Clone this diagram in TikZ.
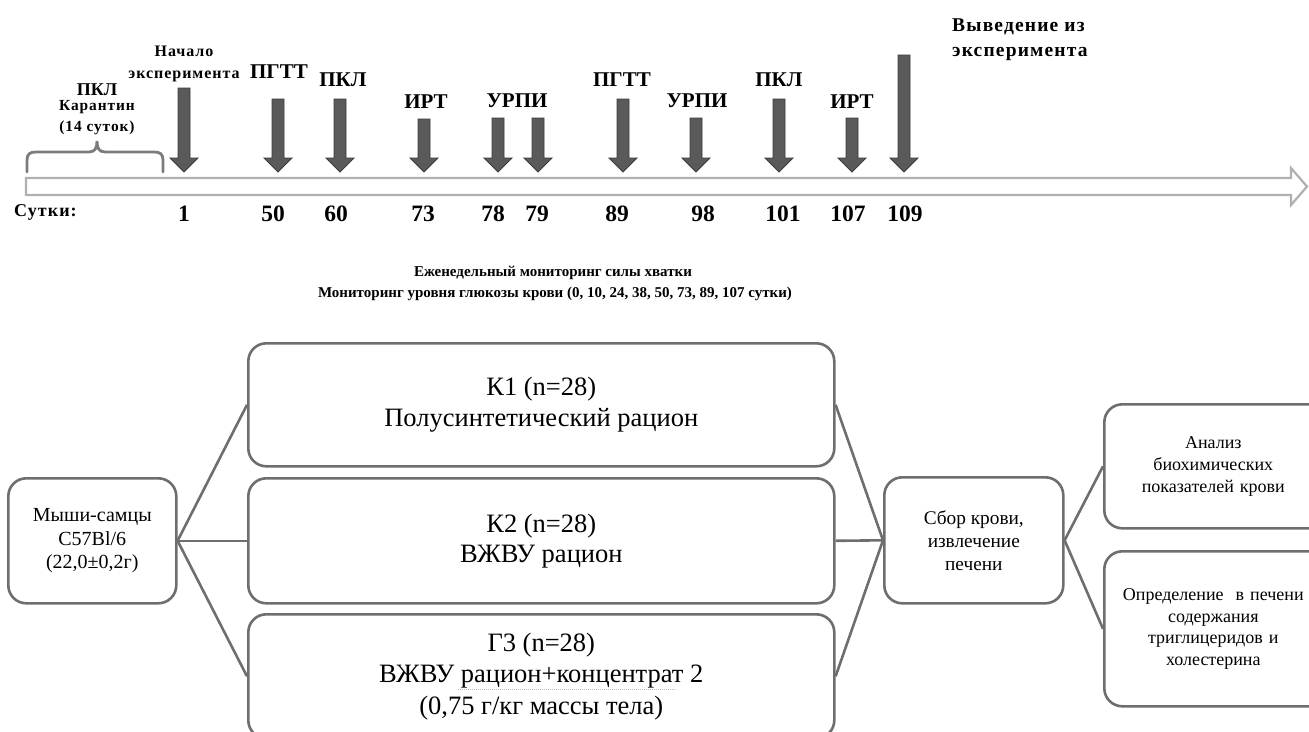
\documentclass[tikz,border=0pt]{standalone}
\usepackage{fontspec}
\setmainfont{Liberation Serif}
\newfontfamily\spbf[LetterSpace=6]{Liberation Serif}
\definecolor{arrfill}{HTML}{5A5A5A}
\definecolor{arrdraw}{HTML}{3C3C3C}
\definecolor{tlgray}{HTML}{B0B0B0}
\definecolor{boxc}{HTML}{6E6E6E}
\definecolor{wavec}{HTML}{B8B8B8}
\newcommand\dayarrow[2]{\filldraw[darr] (#1-6,#2) -- (#1+6,#2) -- (#1+6,158) -- (#1+14,158) -- (#1,172) -- (#1-14,158) -- (#1-6,158) -- cycle;}
\begin{document}
\begin{tikzpicture}[x=1pt,y=-1pt,
  darr/.style={fill=arrfill,draw=arrdraw,line width=0.9pt},
  small/.style={font=\spbf\bfseries\fontsize{16}{22}\selectfont,inner sep=0,align=center},
  big/.style={font=\bfseries\fontsize{21}{24}\selectfont,inner sep=0},
  num/.style={font=\bfseries\fontsize{23.5}{26}\selectfont,inner sep=0},
  mon/.style={font=\bfseries\fontsize{15}{18}\selectfont,inner sep=0},
  gbox/.style={draw=boxc,line width=2.6pt,rounded corners=18pt,fill=white,align=center,inner sep=0,anchor=north west},
  conn/.style={draw=boxc,line width=2.6pt}]
\useasboundingbox (0,0) rectangle (1309,731);
\clip (0,0) rectangle (1309,731);

% timeline hollow arrow
\draw[tlgray,line width=2.2pt,fill=white,line join=miter] (26,178) -- (1291,178) -- (1291,168) -- (1307,186.5) -- (1291,205) -- (1291,195) -- (26,195) -- cycle;

% brace
\draw[boxc!90,line width=2.8pt,line cap=round] (27,172) -- (27,160) .. controls (27,154) and (30,152) .. (36,152) -- (89,152) .. controls (95,152) and (97,148) .. (97,141) .. controls (97,148) and (99,152) .. (105,152) -- (154,152) .. controls (160,152) and (163,154) .. (163,160) -- (163,172);

% day arrows
\dayarrow{184}{88}
\dayarrow{278}{99}
\dayarrow{340}{99}
\dayarrow{424}{119}
\dayarrow{498}{118}
\dayarrow{538}{118}
\dayarrow{623}{99}
\dayarrow{696}{118}
\dayarrow{779}{99}
\dayarrow{852}{118}
\dayarrow{904}{55}

% labels above
\node[font=\bfseries\fontsize{18}{20}\selectfont,inner sep=0] (pkl0) at (97,90) {ПКЛ};
\node[font=\spbf\bfseries\fontsize{15.4}{21}\selectfont,inner sep=0,align=center] (quar) at (97,118) {Карантин\\(14 суток)};
\node[small] (start) at (184,64) {Начало\\эксперимента};
\node[big] (l50) at (279,72) {ПГТТ};
\node[big] (l60) at (343,80) {ПКЛ};
\node[big] (l73) at (426,102) {ИРТ};
\node[big] (l78) at (517,101) {УРПИ};
\node[big] (l89) at (622,80) {ПГТТ};
\node[big] (l98) at (697,101) {УРПИ};
\node[big] (l101) at (779,80) {ПКЛ};
\node[big] (l107) at (852,102) {ИРТ};
\node[font=\spbf\bfseries\fontsize{19.5}{25}\selectfont,inner sep=0,align=left,anchor=west] (end) at (952,40) {Выведение из\\эксперимента};

% day numbers
\node[font=\spbf\bfseries\fontsize{18}{20}\selectfont,inner sep=0,anchor=west] (sutki) at (14,212) {Сутки:};
\node[num] (d1) at (184,214) {1};
\node[num] (d50) at (273,214) {50};
\node[num] (d60) at (336,214) {60};
\node[num] (d73) at (423,214) {73};
\node[num] (d78) at (493,214) {78};
\node[num] (d79) at (537,214) {79};
\node[num] (d89) at (617,214) {89};
\node[num] (d98) at (703,214) {98};
\node[num] (d101) at (783,214) {101};
\node[num] (d107) at (848,214) {107};
\node[num] (d109) at (905,214) {109};

% monitoring
\node[mon] (mon1) at (553,273) {Еженедельный мониторинг силы хватки};
\node[mon] (mon2) at (555,294) {Мониторинг уровня глюкозы крови (0, 10, 24, 38, 50, 73, 89, 107 сутки)};

% boxes
\node[gbox,minimum width=168pt,minimum height=125pt,font=\fontsize{20}{23.5}\selectfont] (mice) at (7,477) {Мыши-самцы\\C57Bl/6\\(22,0±0,2г)};
\node[gbox,minimum width=586pt,minimum height=123pt,font=\fontsize{26.5}{31}\selectfont] (k1) at (247,342) {К1 (n=28)\\Полусинтетический рацион};
\node[gbox,minimum width=586pt,minimum height=125pt,font=\fontsize{26.5}{30}\selectfont] (k2) at (247,477) {К2 (n=28)\\ВЖВУ рацион};
\node[gbox,minimum width=586pt,minimum height=124pt,font=\fontsize{26.5}{31.5}\selectfont] (k3) at (247,613) {Г3 (n=28)\\ВЖВУ рацион+концентрат 2\\(0,75 г/кг массы тела)};
\node[gbox,minimum width=179pt,minimum height=126pt,font=\fontsize{19.3}{23}\selectfont] (sbor) at (883,476) {Сбор крови,\\извлечение\\печени};
\node[gbox,minimum width=230pt,minimum height=124pt,text width=230pt,font=\fontsize{18}{22}\selectfont] (anal) at (1103,403) {\hspace*{-12pt}Анализ\\\hspace*{-12pt}биохимических\\\hspace*{-12pt}показателей крови};
\node[gbox,minimum width=230pt,minimum height=155pt,text width=230pt,font=\fontsize{18}{21.7}\selectfont] (det) at (1103,550) {\hspace*{-12pt}Определение\ \ в печени\\\hspace*{-12pt}содержания\\\hspace*{-12pt}триглицеридов и\\\hspace*{-12pt}холестерина};

% spell-check squiggle
\draw[wavec,line width=0.8pt,dash pattern=on 1.2pt off 0.8pt] (458,689) -- (676,689);

% connectors
\draw[conn] (mice.east) -- (k1.west);
\draw[conn] (mice.east) -- (k2.west);
\draw[conn] (mice.east) -- (k3.west);
\draw[conn] (k1.east) -- (sbor.west);
\draw[conn] (k2.east) -- (sbor.west);
\draw[conn] (k3.east) -- (sbor.west);
\draw[conn] (sbor.east) -- (anal.west);
\draw[conn] (sbor.east) -- (det.west);
\end{tikzpicture}
\end{document}
